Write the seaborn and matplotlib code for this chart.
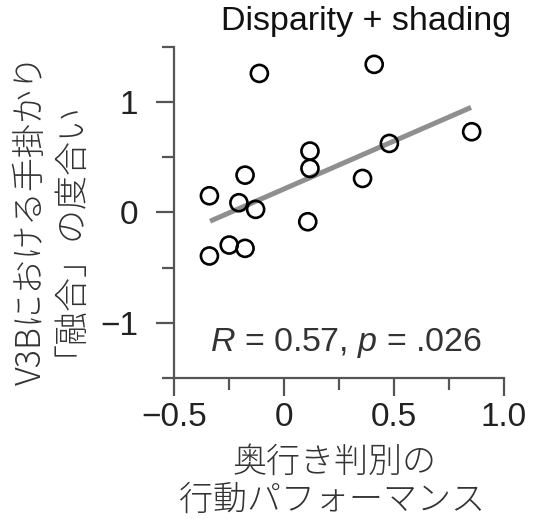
import matplotlib
matplotlib.use("Agg")
import matplotlib.pyplot as plt
import seaborn as sns
import pandas as pd

# Data
perf_x = [-0.112, 0.41, 0.853, 0.479, 0.118, 0.118, 0.357, -0.177, -0.339,
          -0.205, -0.129, 0.108, -0.249, -0.177, -0.339]
fusion_y = [1.258, 1.34, 0.73, 0.624, 0.555, 0.398, 0.307, 0.337, 0.150,
            0.087, 0.027, -0.085, -0.296, -0.326, -0.395]
fit_x = [-0.336, 0.85]
fit_y = [-0.08, 0.95]
x_major = [-0.5, 0, 0.5, 1.0]
x_labels = ["\u22120.5", "0", "0.5", "1.0"]
x_minor = [-0.25, 0.25, 0.75]
y_major = [-1, 0, 1]
y_labels = ["\u22121", "0", "1"]
y_minor = [-1.5, -0.5, 0.5, 1.5]
title = "Disparity + shading"
stat_text = "$R$ = 0.57, $p$ = .026"
xlabel_lines = ["奥行き判別の", "行動パフォーマンス"]
ylabel_text = "V3Bにおける手掛かり\n「融合」の度合い"

sns.set_theme(style="ticks")
plt.rcParams['font.family'] = ['Liberation Sans', 'DejaVu Sans']
plt.rcParams['mathtext.fontset'] = 'custom'
plt.rcParams['mathtext.rm'] = 'Liberation Sans'
plt.rcParams['mathtext.it'] = 'Liberation Sans:italic'

df = pd.DataFrame({"x": perf_x, "y": fusion_y})
fit = pd.DataFrame({"x": fit_x, "y": fit_y})

fig = plt.figure(figsize=(5.38, 5.19), dpi=100)
ax = fig.add_axes([174/538, 1-378/519, 330/538, (378-46.7)/519])

sns.lineplot(data=fit, x="x", y="y", ax=ax, color="#8f8f8f", linewidth=3.6,
             solid_capstyle="butt", zorder=1)
sns.scatterplot(data=df, x="x", y="y", ax=ax, s=150, facecolor="none",
                edgecolor="black", linewidth=1.9, zorder=2)

ax.set_xlim(-0.5, 1.0)
ax.set_ylim(-1.5, 1.5)
ax.set_xticks(x_major)
ax.set_xticklabels(x_labels)
ax.set_xticks(x_minor, minor=True)
ax.set_yticks(y_major)
ax.set_yticklabels(y_labels)
ax.set_yticks(y_minor, minor=True)
ax.set_xlabel("")
ax.set_ylabel("")

spine_c = "#555555"
for s in ["top", "right"]:
    ax.spines[s].set_visible(False)
for s in ["left", "bottom"]:
    ax.spines[s].set_color(spine_c)
    ax.spines[s].set_linewidth(1.6)
ax.tick_params(which="major", direction="out", length=13, width=1.6,
               color=spine_c, labelsize=24, labelcolor="#222222")
ax.tick_params(which="minor", direction="out", length=8.5, width=1.6,
               color=spine_c)
ax.tick_params(axis="x", which="major", pad=4.5)
ax.tick_params(axis="y", which="major", pad=13)

ax.text(0.282, -1.18, stat_text, ha="center", va="center", fontsize=24.5,
        color="#333333")

fig.text(366/538, 1-22/519, title, ha="center", va="center", fontsize=24.5,
         color="#111111")

jp = dict(family=["Noto Sans CJK JP", "DejaVu Sans"], fontweight="light",
          color="#333333", fontsize=24.5)
fig.text(335/538, 1-462/519, xlabel_lines[0], ha="center", va="center", **jp)
fig.text(332/538, 1-500/519, xlabel_lines[1], ha="center", va="center", **jp)
fig.text(41/538, 1-220/519, ylabel_text, ha="center", va="center",
         rotation=90, linespacing=0.45, multialignment="center", **jp)

fig.savefig("out.png", dpi=100)
